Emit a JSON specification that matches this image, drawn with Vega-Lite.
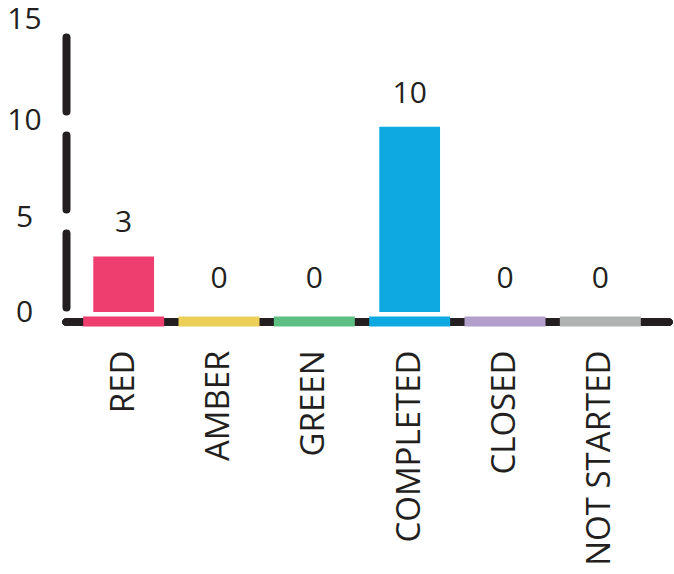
{
  "$schema": "https://vega.github.io/schema/vega-lite/v6.json",
  "autosize": "none",
  "width": 603,
  "height": 278,
  "padding": {"left": 66, "top": 34, "right": 5, "bottom": 262},
  "background": "white",
  "config": {"view": {"stroke": null}, "font": "Open Sans"},
  "data": {"values": [
    {"status": "RED", "count": 3},
    {"status": "AMBER", "count": 0},
    {"status": "GREEN", "count": 0},
    {"status": "COMPLETED", "count": 10},
    {"status": "CLOSED", "count": 0},
    {"status": "NOT STARTED", "count": 0}
  ]},
  "encoding": {
    "x": {
      "field": "status", "type": "nominal", "sort": null,
      "scale": {"range": [10, 582], "paddingInner": 0.15, "paddingOuter": 0.075},
      "axis": {"title": null, "domain": false, "ticks": false, "tickSize": 0, "labelAngle": -90, "labelAlign": "right", "labelBaseline": "middle", "labelPadding": 38, "labelLimit": 400, "labelFont": "Open Sans", "labelFontSize": 33, "labelColor": "#231F20"}
    }
  },
  "layer": [
    {
      "mark": {"type": "rule", "yOffset": 10, "strokeWidth": 7, "strokeCap": "round", "color": "#231F20"},
      "encoding": {"y": {"datum": 0, "type": "quantitative"}, "x": null}
    },
    {
      "mark": {"type": "bar", "width": {"band": 0.75}, "opacity": 1},
      "encoding": {
        "y": {
          "field": "count", "type": "quantitative",
          "scale": {"domain": [0, 15], "nice": false},
          "axis": {"title": null, "values": [0, 5, 10, 15], "grid": false, "ticks": false, "tickSize": 0, "domainColor": "#231F20", "domainWidth": 8, "domainCap": "round", "domainDash": [74, 24], "domainDashOffset": 93, "labelAlign": "center", "labelBaseline": "middle", "labelPadding": 42, "labelFont": "Open Sans", "labelFontSize": 30, "labelColor": "#231F20", "labelOffset": {"expr": "-datum.value*datum.value/15"}}
        },
        "color": {
          "field": "status", "type": "nominal", "legend": null,
          "scale": {"domain": ["RED", "AMBER", "GREEN", "COMPLETED", "CLOSED", "NOT STARTED"], "range": ["#EE3D6F", "#ECCF56", "#5EBF82", "#0DA9E0", "#B29FCB", "#AFB2B1"]}
        }
      }
    },
    {
      "mark": {"type": "tick", "thickness": 10, "size": 81, "yOffset": 9.5, "orient": "horizontal", "opacity": 1},
      "encoding": {
        "y": {"datum": 0, "type": "quantitative"},
        "color": {"field": "status", "type": "nominal", "legend": null}
      }
    },
    {
      "mark": {"type": "text", "dy": -33, "baseline": "middle", "align": "center", "font": "Open Sans", "fontSize": 30, "color": "#231F20"},
      "encoding": {
        "y": {"field": "count", "type": "quantitative"},
        "text": {"field": "count", "type": "quantitative"}
      }
    }
  ]
}
